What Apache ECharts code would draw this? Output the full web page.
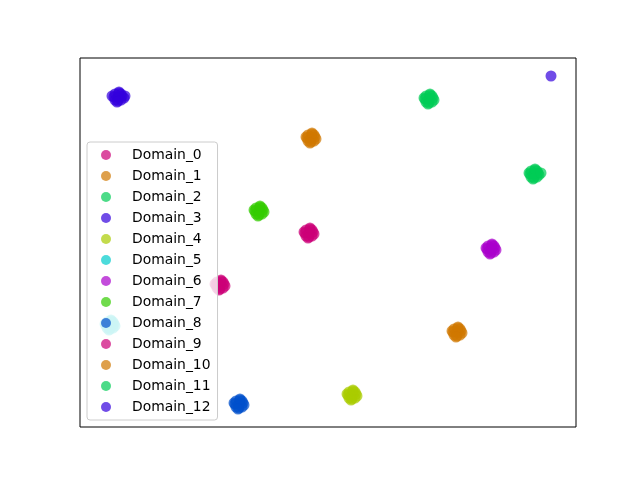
<!DOCTYPE html>
<html><head><meta charset="utf-8">
<script src="https://cdn.jsdelivr.net/npm/echarts@6/dist/echarts.min.js"></script>
<style>html,body{margin:0;padding:0;background:#fff}#c{width:640px;height:480px}</style>
</head><body><div id="c"></div>
<script>
const domainNames = ['Domain_0','Domain_1','Domain_2','Domain_3','Domain_4','Domain_5','Domain_6','Domain_7','Domain_8','Domain_9','Domain_10','Domain_11','Domain_12'];
const domainColors = ['#cc0077','#d07800','#00cc55','#3300dd','#aacc00','#00cccc','#aa00cc','#33cc00','#0050cc','#cc0077','#d07800','#00cc55','#3300dd'];
const d0 = [[229,194],[233,195],[225,194],[230,198],[229,190],[232,197],[226,197],[232,191],[226,191],[234,193],[224,195],[230,199],[228,189]];
const d1 = [[231,289],[235,290],[227,289],[232,293],[231,285],[234,292],[228,292],[234,286],[228,286],[236,288],[226,290],[232,294],[230,284]];
const d2 = [[349,328],[353,329],[345,328],[350,332],[349,324],[352,331],[346,331],[352,325],[346,325],[354,327],[344,329],[350,333],[348,323]];
const d3 = [[38,330],[42,331],[34,330],[39,334],[38,326],[41,333],[35,333],[41,327],[35,327],[44,329],[32,331],[39,335],[37,325],[45,331]];
const d4 = [[272,32],[276,33],[268,32],[273,36],[272,28],[275,35],[269,35],[275,29],[269,29],[277,31],[267,33],[273,37],[271,27]];
const d5 = [[30,102],[34,103],[26,102],[31,106],[30,98],[33,105],[27,105],[33,99],[27,99],[35,101],[25,103],[31,107],[29,97]];
const d6 = [[411,178],[415,179],[407,178],[412,182],[411,174],[414,181],[408,181],[414,175],[408,175],[416,177],[406,179],[412,183],[410,173]];
const d7 = [[179,216],[183,217],[175,216],[180,220],[179,212],[182,219],[176,219],[182,213],[176,213],[184,215],[174,217],[180,221],[178,211]];
const d8 = [[159,23],[163,24],[155,23],[160,27],[159,19],[162,26],[156,26],[162,20],[156,20],[164,22],[154,24],[160,28],[158,18]];
const d9 = [[140,142],[144,143],[136,142],[141,146],[140,138],[143,145],[137,145],[143,139],[137,139],[145,141],[135,143],[141,147],[139,137]];
const d10 = [[377,95],[381,96],[373,95],[378,99],[377,91],[380,98],[374,98],[380,92],[374,92],[382,94],[372,96],[378,100],[376,90]];
const d11 = [[454,253],[458,254],[450,253],[455,257],[454,249],[457,256],[451,256],[457,250],[451,250],[459,252],[449,254],[455,258],[453,248],[461,254]];
const d12 = [[471,351]];
const domainData = [d0,d1,d2,d3,d4,d5,d6,d7,d8,d9,d10,d11,d12];

const chart = echarts.init(document.getElementById('c'));
chart.setOption({
  animation:false,
  backgroundColor:'#fff',
  grid:{left:80,top:58,width:496,height:369,show:true,borderColor:'#000',borderWidth:1,backgroundColor:'transparent'},
  xAxis:{type:'value',min:0,max:496,show:false,splitLine:{show:false}},
  yAxis:{type:'value',min:0,max:369,show:false,splitLine:{show:false}},
  legend:{
    orient:'vertical',left:87,top:142,
    itemWidth:10,itemHeight:10,itemGap:7,
    padding:[6,7,6,14],
    backgroundColor:'rgba(255,255,255,0.8)',
    borderColor:'#cccccc',borderWidth:1,borderRadius:3,
    textStyle:{fontFamily:'DejaVu Sans',fontSize:13.9,color:'#000',lineHeight:14,padding:[0,0,0,16]},
    data:domainNames.map(n=>({name:n,icon:'circle'}))
  },
  series:domainNames.map((n,i)=>({
    name:n,type:'scatter',symbol:'circle',symbolSize:11,
    data:domainData[i],
    itemStyle:{color:domainColors[i],opacity:0.7}
  }))
});
</script></body></html>
